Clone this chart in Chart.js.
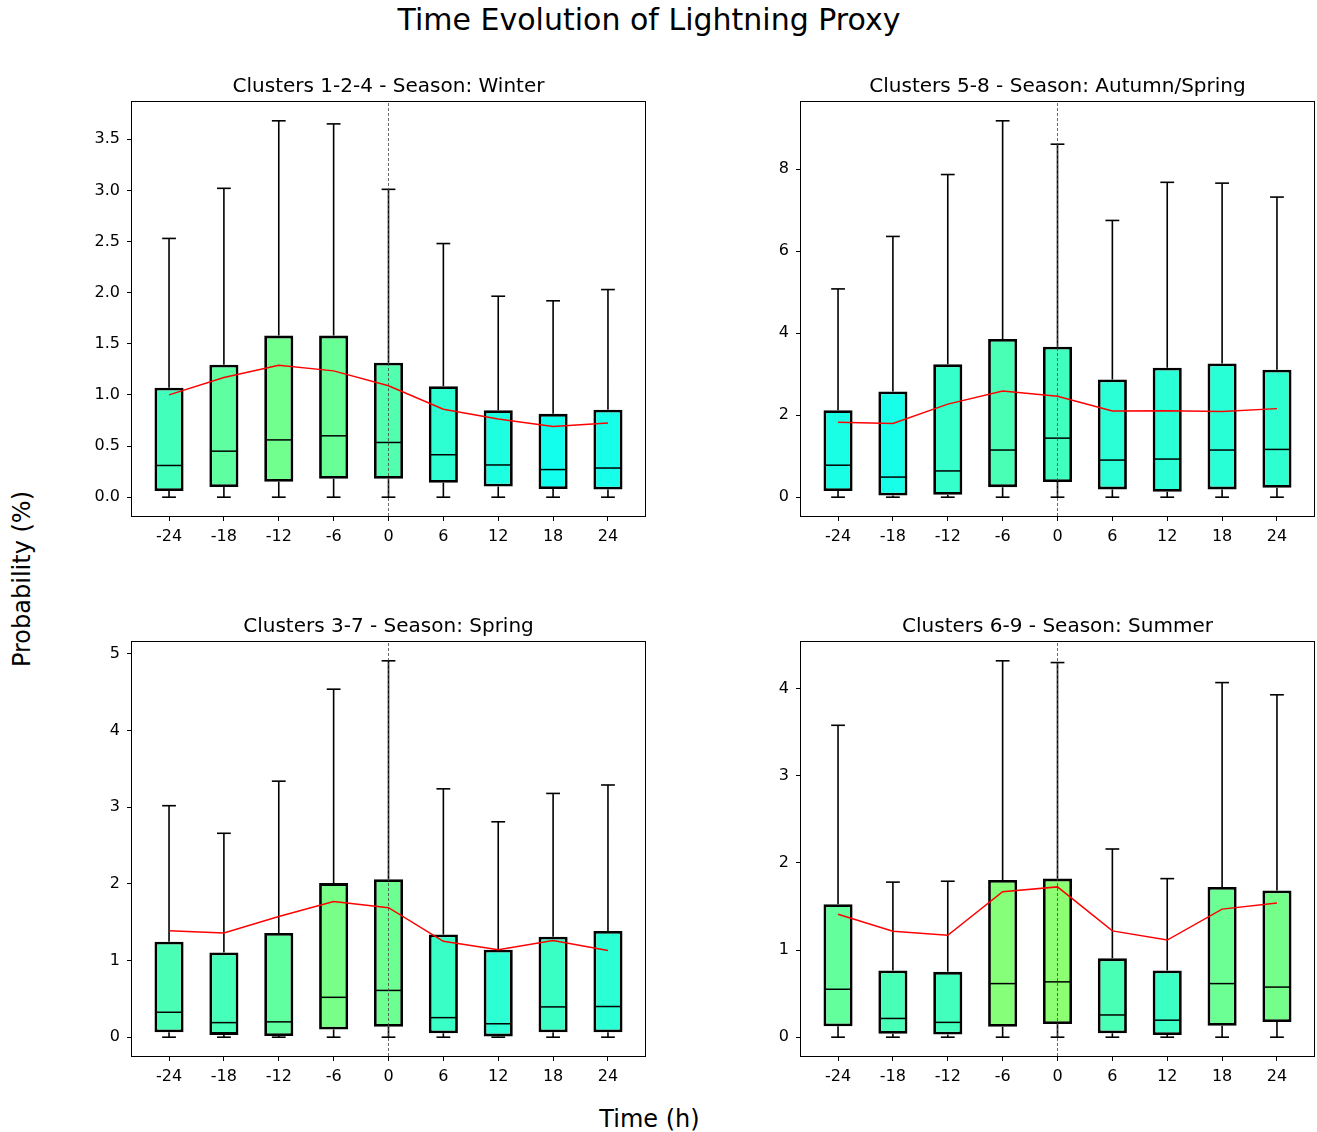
<!DOCTYPE html>
<html lang="en">
<head>
    <meta charset="UTF-8">
    <title>Time Evolution of Lightning Proxy</title>

    <!-- Chart.js -->
    <script src="https://cdn.jsdelivr.net/npm/chart.js@4.4.1/dist/chart.umd.min.js"></script>

    <style>
        html, body { margin: 0; padding: 0; background: #fff; overflow: hidden; }
        #figure { position: relative; width: 1317px; height: 1132px; font-family: 'DejaVu Sans', sans-serif; color: #000; }
        .panel { position: absolute; }
        #suptitle { position: absolute; left: 0; top: 5px; width: 1298px; text-align: center; font-size: 30px; line-height: 30px; }
        #xlabel { position: absolute; left: 0; top: 1107px; width: 1299px; text-align: center; font-size: 24px; line-height: 24px; }
        #ylabel { position: absolute; left: -127.6px; top: 567px; width: 300px; text-align: center; font-size: 24px; line-height: 24px; transform: rotate(-90deg); transform-origin: center; }
    </style>
</head>
<body>
<div id="figure">
    <div id="suptitle">Time Evolution of Lightning Proxy</div>
    <canvas id="winter" class="panel" width="588" height="500" style="left:60px;top:60px;width:588px;height:500px"></canvas>
    <canvas id="autumn" class="panel" width="588" height="500" style="left:729px;top:60px;width:588px;height:500px"></canvas>
    <canvas id="spring" class="panel" width="588" height="500" style="left:60px;top:600px;width:588px;height:500px"></canvas>
    <canvas id="summer" class="panel" width="588" height="500" style="left:729px;top:600px;width:588px;height:500px"></canvas>
    <div id="ylabel">Probability (%)</div>
    <div id="xlabel">Time (h)</div>
</div>

<script>
    // Hours relative to the event
    const times = [-24, -18, -12, -6, 0, 6, 12, 18, 24];
    const timeLabels = ['-24', '-18', '-12', '-6', '0', '6', '12', '18', '24'];

    // Clusters 1-2-4, winter
    const winterLow    = [0, 0, 0, 0, 0, 0, 0, 0, 0];
    const winterQ1     = [0.06, 0.10, 0.15, 0.18, 0.18, 0.14, 0.105, 0.08, 0.075];
    const winterMedian = [0.31, 0.45, 0.56, 0.60, 0.535, 0.415, 0.315, 0.27, 0.285];
    const winterQ3     = [1.07, 1.295, 1.58, 1.58, 1.315, 1.085, 0.85, 0.815, 0.855];
    const winterHigh   = [2.53, 3.02, 3.68, 3.65, 3.01, 2.48, 1.965, 1.92, 2.03];
    const winterMean   = [1.0, 1.17, 1.29, 1.235, 1.09, 0.86, 0.765, 0.69, 0.725];
    const winterTicks  = [0, 0.5, 1, 1.5, 2, 2.5, 3, 3.5];
    const winterTickLabels = ['0.0', '0.5', '1.0', '1.5', '2.0', '2.5', '3.0', '3.5'];

    // Clusters 5-8, autumn/spring
    const autumnLow    = [0, 0, 0, 0, 0, 0, 0, 0, 0];
    const autumnQ1     = [0.15, 0.04, 0.06, 0.245, 0.37, 0.19, 0.13, 0.19, 0.23];
    const autumnMedian = [0.78, 0.49, 0.64, 1.15, 1.44, 0.905, 0.93, 1.15, 1.165];
    const autumnQ3     = [2.12, 2.58, 3.24, 3.86, 3.67, 2.87, 3.16, 3.26, 3.11];
    const autumnHigh   = [5.08, 6.36, 7.87, 9.18, 8.61, 6.75, 7.68, 7.66, 7.32];
    const autumnMean   = [1.83, 1.80, 2.27, 2.59, 2.46, 2.10, 2.11, 2.09, 2.16];
    const autumnTicks  = [0, 2, 4, 6, 8];
    const autumnTickLabels = ['0', '2', '4', '6', '8'];

    // Clusters 3-7, spring
    const springLow    = [0, 0, 0, 0, 0, 0, 0, 0, 0];
    const springQ1     = [0.065, 0.03, 0.015, 0.10, 0.135, 0.05, 0.01, 0.065, 0.065];
    const springMedian = [0.325, 0.19, 0.20, 0.52, 0.61, 0.255, 0.175, 0.395, 0.40];
    const springQ3     = [1.245, 1.105, 1.36, 2.01, 2.06, 1.34, 1.14, 1.31, 1.385];
    const springHigh   = [3.02, 2.66, 3.34, 4.54, 4.91, 3.24, 2.81, 3.18, 3.29];
    const springMean   = [1.39, 1.36, 1.575, 1.77, 1.69, 1.25, 1.14, 1.26, 1.13];
    const springTicks  = [0, 1, 2, 3, 4, 5];
    const springTickLabels = ['0', '1', '2', '3', '4', '5'];

    // Clusters 6-9, summer
    const summerLow    = [0, 0, 0, 0, 0, 0, 0, 0, 0];
    const summerQ1     = [0.125, 0.04, 0.03, 0.12, 0.15, 0.045, 0.025, 0.13, 0.175];
    const summerMedian = [0.55, 0.215, 0.17, 0.615, 0.635, 0.255, 0.195, 0.615, 0.575];
    const summerQ3     = [1.525, 0.765, 0.75, 1.805, 1.82, 0.905, 0.765, 1.725, 1.685];
    const summerHigh   = [3.58, 1.78, 1.79, 4.32, 4.30, 2.16, 1.82, 4.07, 3.93];
    const summerMean   = [1.41, 1.215, 1.17, 1.67, 1.725, 1.22, 1.115, 1.47, 1.54];
    const summerTicks  = [0, 1, 2, 3, 4];
    const summerTickLabels = ['0', '1', '2', '3', '4'];

    const panels = [
        { id: 'winter', title: 'Clusters 1-2-4 - Season: Winter', low: winterLow, q1: winterQ1, median: winterMedian, q3: winterQ3, high: winterHigh, mean: winterMean, ticks: winterTicks, tickLabels: winterTickLabels },
        { id: 'autumn', title: 'Clusters 5-8 - Season: Autumn/Spring', low: autumnLow, q1: autumnQ1, median: autumnMedian, q3: autumnQ3, high: autumnHigh, mean: autumnMean, ticks: autumnTicks, tickLabels: autumnTickLabels },
        { id: 'spring', title: 'Clusters 3-7 - Season: Spring', low: springLow, q1: springQ1, median: springMedian, q3: springQ3, high: springHigh, mean: springMean, ticks: springTicks, tickLabels: springTickLabels },
        { id: 'summer', title: 'Clusters 6-9 - Season: Summer', low: summerLow, q1: summerQ1, median: summerMedian, q3: summerQ3, high: summerHigh, mean: summerMean, ticks: summerTicks, tickLabels: summerTickLabels }
    ];

    Chart.defaults.font.family = "'DejaVu Sans', sans-serif";
    Chart.defaults.color = '#000';

    const BOX_HOURS = 3; // box width in hours

    // fill colour from where the mean sits in the whisker range: cyan -> green
    function boxColor(mean, top) {
        const t = Math.min(1, Math.max(0, 2.29 * mean / top - 0.36));
        const r = Math.round(255 * t);
        return `rgb(${r}, 255, ${255 - r})`;
    }

    // black frame round the plot area
    const frame = {
        id: 'frame',
        afterDatasetsDraw(chart) {
            const { ctx, chartArea: a } = chart;
            ctx.save();
            ctx.strokeStyle = '#000';
            ctx.lineWidth = 1;
            ctx.strokeRect(a.left - 0.5, a.top - 0.5, a.right - a.left + 1, a.bottom - a.top + 1);
            ctx.restore();
        }
    };

    function drawPanel(p) {
        const lo = Math.min(...p.low);
        const hi = Math.max(...p.high);
        const yMin = lo - 0.05 * (hi - lo);
        const yMax = hi + 0.05 * (hi - lo);

        const xLeft = times[0] - BOX_HOURS / 2;
        const xRight = times[times.length - 1] + BOX_HOURS / 2;
        const xMin = xLeft - 0.05 * (xRight - xLeft);
        const xMax = xRight + 0.05 * (xRight - xLeft);

        // whiskers: q1 -> low and q3 -> high, broken with nulls
        const whiskers = [];
        times.forEach((t, i) => {
            whiskers.push({ x: t, y: p.low[i] }, { x: t, y: p.q1[i] }, { x: t, y: null });
            whiskers.push({ x: t, y: p.q3[i] }, { x: t, y: p.high[i] }, { x: t, y: null });
        });
        const caps = times.flatMap((t, i) => [{ x: t, y: p.low[i] }, { x: t, y: p.high[i] }]);
        const boxes = times.map((t, i) => ({ x: t, y: [p.q1[i], p.q3[i]] }));
        const medians = times.map((t, i) => ({ x: t, y: p.median[i] }));
        const means = times.map((t, i) => ({ x: t, y: p.mean[i] }));

        const axisCommon = {
            type: 'linear',
            offset: false,
            border: { display: false },
            grid: { offset: false, drawOnChartArea: false, drawTicks: true, tickLength: 5, tickColor: '#000', tickWidth: 1, lineWidth: 1 },
        };

        new Chart(document.getElementById(p.id), {
            type: 'bar',
            data: {
                datasets: [
                    {
                        type: 'line', data: whiskers, order: 4,
                        borderColor: '#000', borderWidth: 1.6, pointRadius: 0, spanGaps: false
                    },
                    {
                        type: 'scatter', data: caps, order: 4,
                        pointStyle: 'line', pointRadius: 6.9, pointBorderWidth: 1.6, pointBorderColor: '#000'
                    },
                    {
                        type: 'bar', data: boxes, order: 3,
                        backgroundColor: p.mean.map(m => boxColor(m, hi)),
                        borderColor: '#000', borderWidth: 2.8, borderSkipped: false,
                        grouped: false, categoryPercentage: 1, barPercentage: 0.53
                    },
                    {
                        type: 'scatter', data: medians, order: 2,
                        pointStyle: 'line', pointRadius: 13, pointBorderWidth: 1.5, pointBorderColor: '#000'
                    },
                    {
                        type: 'line', data: [{ x: 0, y: yMin }, { x: 0, y: yMax }], order: 1,
                        borderColor: '#444', borderWidth: 0.8, borderDash: [3, 2], pointRadius: 0
                    },
                    {
                        type: 'line', data: means, order: 0,
                        borderColor: '#ff0000', borderWidth: 1.5, pointRadius: 0, tension: 0
                    }
                ]
            },
            options: {
                responsive: false,
                animation: false,
                events: [],
                layout: { autoPadding: false, padding: { left: 0, right: 3, top: 0, bottom: 0 } },
                plugins: {
                    legend: { display: false },
                    tooltip: { enabled: false },
                    title: {
                        display: true, text: p.title, fullSize: false,
                        color: '#000', font: { size: 20, weight: 'normal' },
                        padding: { top: 14.5, bottom: 3.5 }
                    }
                },
                scales: {
                    x: {
                        ...axisCommon,
                        min: xMin, max: xMax,
                        afterBuildTicks: axis => { axis.ticks = times.map(v => ({ value: v })); },
                        afterFit: axis => { axis.height = 44; },
                        ticks: { autoSkip: false, maxRotation: 0, padding: 6, color: '#000', font: { size: 16 }, callback: (v, i) => timeLabels[i] }
                    },
                    y: {
                        ...axisCommon,
                        min: yMin, max: yMax,
                        afterBuildTicks: axis => { axis.ticks = p.ticks.map(v => ({ value: v })); },
                        afterFit: axis => { axis.width = 72; },
                        ticks: { autoSkip: false, padding: 7, color: '#000', font: { size: 16 }, callback: (v, i) => p.tickLabels[i] }
                    }
                }
            },
            plugins: [frame]
        });
    }

    panels.forEach(drawPanel);
</script>
</body>
</html>
